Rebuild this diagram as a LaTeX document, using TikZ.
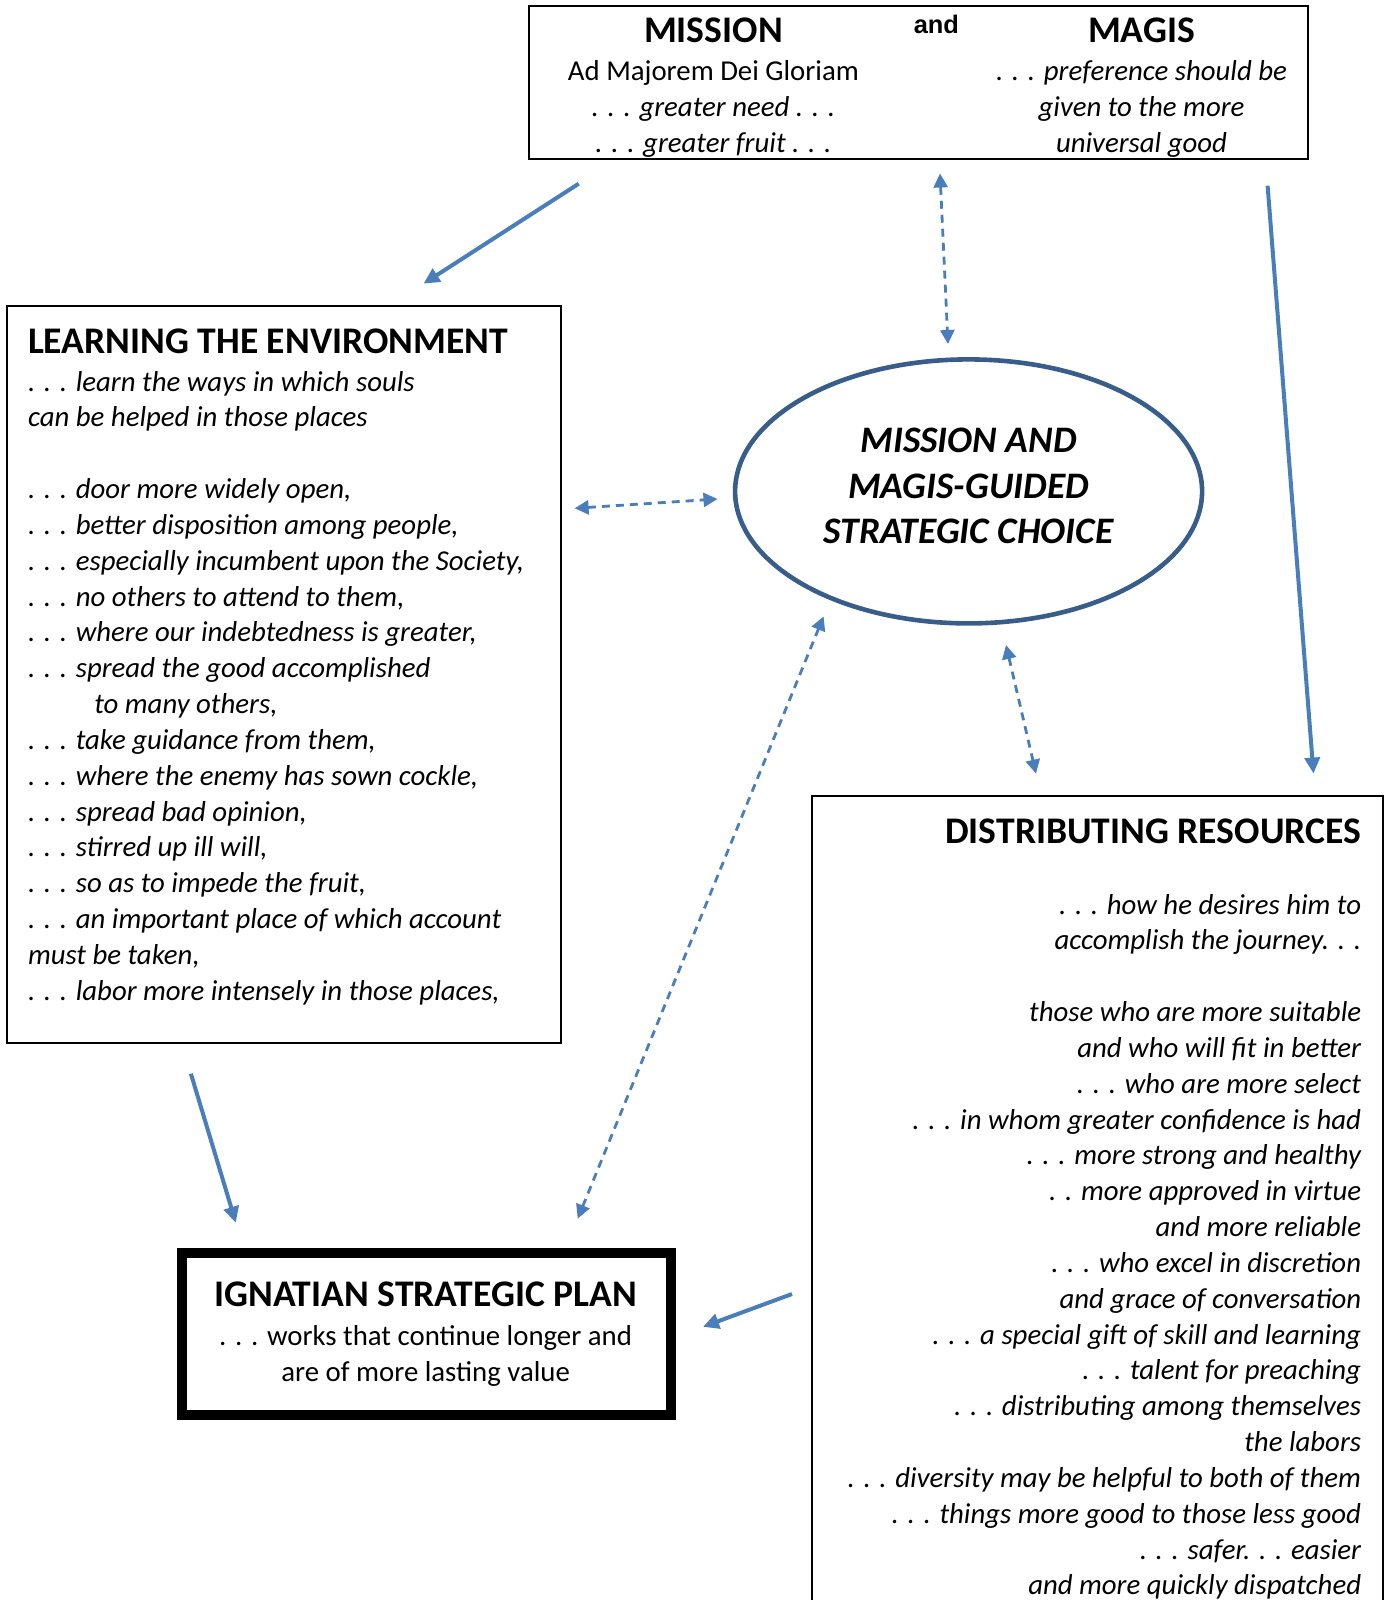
\documentclass[tikz,border=0pt]{standalone}
\usepackage{fontspec}
\setmainfont{Carlito}
\newfontfamily\arialf{Liberation Sans}
\usetikzlibrary{arrows.meta,shapes.geometric}
\definecolor{arrowblue}{RGB}{74,126,187}
\definecolor{ellblue}{RGB}{56,93,138}
\tikzset{
  bodyit/.style={font=\fontsize{14.4}{17.9}\selectfont\itshape, inner sep=0pt},
  bodyup/.style={font=\fontsize{14.4}{17.9}\selectfont, inner sep=0pt},
  headtxt/.style={font=\fontsize{18.8}{22}\selectfont\bfseries, inner sep=0pt},
  elltxt/.style={font=\fontsize{18.7}{22}\selectfont\bfseries\itshape, inner sep=0pt},
  thinbox/.style={draw=black, line width=1pt, rectangle, inner sep=0pt},
  solidarrow/.style={draw=arrowblue, line width=2pt, -{Triangle[length=8pt,width=7.5pt]}},
  dasharrow/.style={draw=arrowblue, line width=1.4pt, dash pattern=on 4pt off 3pt,
     {Triangle[length=7pt,width=7pt]}-{Triangle[length=7pt,width=7pt]}},
}
\begin{document}
\begin{tikzpicture}[x=0.5pt,y=-0.5pt]
\useasboundingbox (0,0) rectangle (1387,1600);
\clip (0,0) rectangle (1387,1600);
% boxes
\node[thinbox, minimum width=389.5pt, minimum height=76.5pt] (top) at (918.5,82.5) {};
\node[thinbox, minimum width=277pt, minimum height=368.5pt] (learn) at (284,674.5) {};
\node[thinbox, minimum width=285.5pt, minimum height=427pt] (distr) at (1097.5,1223) {};
\node[draw=black, line width=5pt, rectangle, minimum width=244.5pt, minimum height=81pt] (plan) at (426.5,1334) {};
\node[draw=ellblue, line width=2.3pt, ellipse, minimum width=233.5pt, minimum height=132pt, inner sep=0pt] (choice) at (968.6,491.4) {};

% top box text
\node[headtxt, anchor=base] (mission) at (713.4,42.5) {MISSION};
\node[font=\arialf\fontsize{12.7}{15}\selectfont\bfseries, inner sep=0pt, anchor=base] (and) at (936.4,33.5) {and};
\node[headtxt, anchor=base] (magis) at (1141.5,42.5) {MAGIS};
\node[bodyup, anchor=base] (amdg) at (713.4,80.4) {Ad Majorem Dei Gloriam};
\node[bodyit, anchor=base] (need) at (713.4,116.2) {. . . greater need . . .};
\node[bodyit, anchor=base] (fruit) at (713.4,152) {. . . greater fruit . . .};
\node[bodyit, anchor=base] (pref1) at (1141.5,80.4) {. . . preference should be};
\node[bodyit, anchor=base] (pref2) at (1141.5,116.2) {given to the more};
\node[bodyit, anchor=base] (pref3) at (1141.5,152) {universal good};

% ellipse text
\node[elltxt, anchor=base] (e1) at (968.6,452) {MISSION AND};
\node[elltxt, anchor=base] (e2) at (968.6,498) {MAGIS-GUIDED};
\node[elltxt, anchor=base] (e3) at (968.6,543) {STRATEGIC CHOICE};

% learning box
\node[headtxt, anchor=base west] (learnhead) at (27.6,353) {LEARNING THE ENVIRONMENT};
\foreach \n/\t in {
 1/{. . . learn the ways in which souls},
 2/{can be helped in those places},
 4/{. . . door more widely open,},
 5/{. . . better disposition among people,},
 6/{. . . especially incumbent upon the Society,},
 7/{. . . no others to attend to them,},
 8/{. . . where our indebtedness is greater,},
 9/{. . . spread the good accomplished},
 10/{\hspace*{33.2pt}to many others,},
 11/{. . . take guidance from them,},
 12/{. . . where the enemy has sown cockle,},
 13/{. . . spread bad opinion,},
 14/{. . . stirred up ill will,},
 15/{. . . so as to impede the fruit,},
 16/{. . . an important place of which account},
 17/{must be taken,},
 18/{. . . labor more intensely in those places,}}
 \node[bodyit, anchor=base west] (L\n) at (27.6,{391+35.84*(\n-1)}) {\t};

% distributing box
\node[headtxt, anchor=base east] (distrhead) at (1361.5,843) {DISTRIBUTING RESOURCES};
\foreach \n/\t in {
 1/{. . . how he desires him to},
 2/{accomplish the journey. . .},
 4/{those who are more suitable},
 5/{and who will fit in better},
 6/{. . . who are more select},
 7/{. . . in whom greater confidence is had},
 8/{. . . more strong and healthy},
 9/{. . more approved in virtue},
 10/{and more reliable},
 11/{. . . who excel in discretion},
 12/{and grace of conversation},
 13/{. . . a special gift of skill and learning},
 14/{. . . talent for preaching},
 15/{. . . distributing among themselves},
 16/{the labors},
 17/{. . . diversity may be helpful to both of them},
 18/{. . . things more good to those less good},
 19/{. . . safer. . . easier},
 20/{and more quickly dispatched}}
 \node[bodyit, anchor=base east] (R\n) at (1361.5,{914+35.84*(\n-1)}) {\t};

% plan text
\node[headtxt, anchor=base] (planhead) at (425.6,1306) {IGNATIAN STRATEGIC PLAN};
\node[bodyup, anchor=base] (plan1) at (425.6,1345) {. . . works that continue longer and};
\node[bodyup, anchor=base] (plan2) at (425.6,1381) {are of more lasting value};

% connector end points
\coordinate (a1s) at (578.7,183.7);  \coordinate (a1e) at (423.5,283.7);
\coordinate (a2s) at (940,173.5);    \coordinate (a2e) at (948,344);
\coordinate (a3s) at (1267.6,185.7); \coordinate (a3e) at (1313.5,773.6);
\coordinate (a4s) at (574.6,508.3);  \coordinate (a4e) at (717.5,499);
\coordinate (a5s) at (823.6,616.4);  \coordinate (a5e) at (577.7,1218.6);
\coordinate (a6s) at (1006,645);     \coordinate (a6e) at (1036,773.6);
\coordinate (a7s) at (190.9,1073.7); \coordinate (a7e) at (235.8,1222.7);
\coordinate (a8s) at (792,1294);     \coordinate (a8e) at (703,1326.8);

\draw[solidarrow] (a1s) -- (a1e);
\draw[solidarrow] (a3s) -- (a3e);
\draw[solidarrow] (a7s) -- (a7e);
\draw[solidarrow] (a8s) -- (a8e);
\draw[dasharrow] (a2s) -- (a2e);
\draw[dasharrow] (a4s) -- (a4e);
\draw[dasharrow] (a5s) -- (a5e);
\draw[dasharrow] (a6s) -- (a6e);
\end{tikzpicture}
\end{document}
